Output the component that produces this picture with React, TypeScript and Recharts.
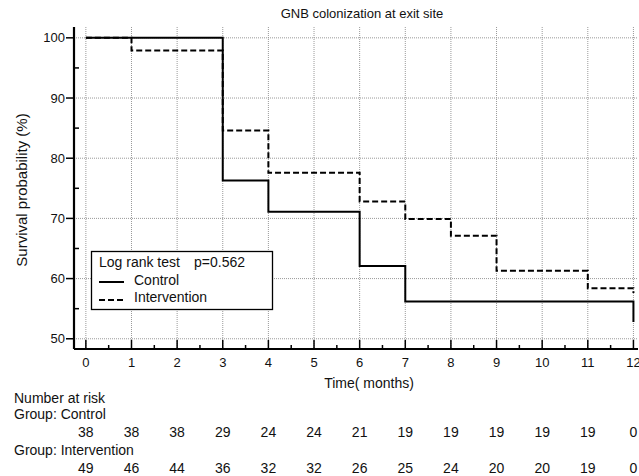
import { CartesianGrid, Line, LineChart, XAxis, YAxis } from "recharts";

const months = [0, 1, 2, 3, 4, 5, 6, 7, 8, 9, 10, 11, 12];
const controlSurvival = [100, 100, 100, 76.3, 71.1, 71.1, 62.1, 56.2, 56.2, 56.2, 56.2, 56.2, 52.8];
const interventionSurvival = [100, 97.9, 97.9, 84.6, 77.6, 77.6, 72.8, 69.9, 67.1, 61.3, 61.3, 58.4, 57.6];
const riskControl = [38, 38, 38, 29, 24, 24, 21, 19, 19, 19, 19, 19, 0];
const riskIntervention = [49, 46, 44, 36, 32, 32, 26, 25, 24, 20, 20, 19, 0];
const xTicks = [0, 0.5, 1, 1.5, 2, 2.5, 3, 3.5, 4, 4.5, 5, 5.5, 6, 6.5, 7, 7.5, 8, 8.5, 9, 9.5, 10, 10.5, 11, 11.5, 12];
const yTicks = [50, 55, 60, 65, 70, 75, 80, 85, 90, 95, 100];
const yGrid = [50, 60, 70, 80, 90, 100];

const data = months.map((m, i) => ({
  month: m,
  control: controlSurvival[i],
  intervention: interventionSurvival[i],
}));

const font = "'Liberation Sans', Arial, sans-serif";

function XTick(props: any) {
  const { x, y, payload } = props;
  const v = payload.value;
  const major = Number.isInteger(v);
  const i = months.indexOf(v);
  return (
    <g>
      <line x1={x} x2={x} y1={y} y2={y - (major ? 9 : 4)} stroke="#000" strokeWidth={1.5} />
      {major && (
        <g fontFamily={font} fill="#111" textAnchor="middle">
          <text x={x} y={y + 18} fontSize={13}>{v}</text>
          <text x={x} y={y + 88} fontSize={14}>{riskControl[i]}</text>
          <text x={x} y={y + 124} fontSize={14}>{riskIntervention[i]}</text>
        </g>
      )}
    </g>
  );
}

function YTick(props: any) {
  const { x, y, payload } = props;
  const v = payload.value;
  const major = v % 10 === 0;
  return (
    <g>
      {major ? (
        <>
          <line x1={x - 8} x2={x} y1={y} y2={y} stroke="#000" strokeWidth={1.5} />
          <text x={x - 9} y={y + 4.5} textAnchor="end" fontFamily={font} fontSize={13} fill="#111">
            {v}
          </text>
        </>
      ) : (
        <line x1={x} x2={x + 5} y1={y} y2={y} stroke="#000" strokeWidth={1.5} />
      )}
    </g>
  );
}

export default function App() {
  return (
    <div style={{ position: "absolute", left: 0, top: 0, width: 639, height: 476, background: "#fff" }}>
      <LineChart width={639} height={476} data={data} margin={{ top: 27, right: 1, left: 0, bottom: 0 }}>
        <CartesianGrid
          verticalValues={months}
          horizontalValues={yGrid}
          stroke="#999"
          strokeDasharray="1 1"
        />
        <XAxis
          dataKey="month"
          type="number"
          domain={[-0.26, 12.1]}
          allowDataOverflow
          ticks={xTicks}
          interval={0}
          height={127}
          tickSize={0}
          tickMargin={0}
          tickLine={false}
          tick={<XTick />}
          axisLine={{ stroke: "#000", strokeWidth: 2.2 }}
        />
        <YAxis
          type="number"
          domain={[48.3, 101.8]}
          allowDataOverflow
          ticks={yTicks}
          interval={0}
          width={74}
          tickSize={0}
          tickMargin={0}
          tickLine={false}
          tick={<YTick />}
          axisLine={{ stroke: "#000", strokeWidth: 2.2 }}
        />
        <Line
          type="stepAfter"
          dataKey="control"
          stroke="#000"
          strokeWidth={2}
          dot={false}
          isAnimationActive={false}
        />
        <Line
          type="stepAfter"
          dataKey="intervention"
          stroke="#000"
          strokeWidth={2}
          strokeDasharray="6 3"
          dot={false}
          isAnimationActive={false}
        />
      </LineChart>
      <svg
        width={639}
        height={476}
        style={{ position: "absolute", left: 0, top: 0, pointerEvents: "none" }}
        fontFamily={font}
        fontSize={14}
        fill="#111"
      >
        <text x={362} y={17.5} textAnchor="middle" fontSize={13}>GNB colonization at exit site</text>
        <text transform="translate(27,190) rotate(-90)" textAnchor="middle" fontSize={15}>
          Survival probability (%)
        </text>
        <text x={369} y={388} textAnchor="middle">Time( months)</text>
        <text x={14} y={403}>Number at risk</text>
        <text x={14} y={419}>Group: Control</text>
        <text x={14} y={455}>Group: Intervention</text>
        <rect x={91.5} y={251.5} width={181} height={58} fill="#fff" stroke="#000" strokeWidth={1.3} />
        <text x={99} y={267.3}>Log rank test</text>
        <text x={194} y={267.3}>p=0.562</text>
        <line x1={99} x2={124} y1={282} y2={282} stroke="#000" strokeWidth={2} />
        <text x={134} y={285}>Control</text>
        <line x1={99} x2={124} y1={300} y2={300} stroke="#000" strokeWidth={2} strokeDasharray="6 3" />
        <text x={134} y={301.7}>Intervention</text>
      </svg>
    </div>
  );
}
